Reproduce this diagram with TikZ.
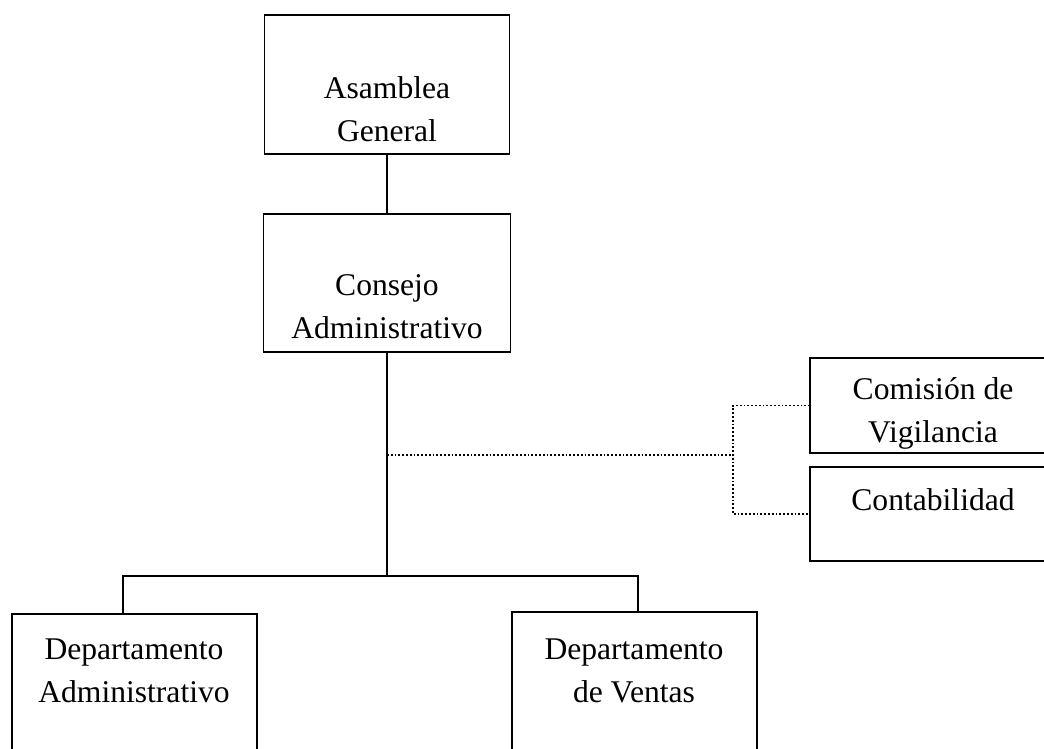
\documentclass[tikz,border=0pt]{standalone}
\usepackage{fontspec}
\setmainfont{Liberation Serif}
\begin{document}
\begin{tikzpicture}[x=0.5pt,y=-0.5pt,
    caja/.style={draw, line width=0.8pt, inner sep=0pt, outer sep=0pt},
    texto/.style={align=center, inner sep=0pt, font=\fontsize{15.8}{21.5}\selectfont},
    linea/.style={line width=0.8pt},
    punteado/.style={densely dotted, line width=0.9pt}]
    \useasboundingbox (0,0) rectangle (1044,749);
    \clip (0,0) rectangle (1044,749);
    % cajas
    \node[caja, minimum width=122.5pt, minimum height=69.5pt] (asa) at (387,84.5) {};
    \node[caja, minimum width=123.5pt, minimum height=69pt] (con) at (387,283) {};
    \node[caja, minimum width=125pt, minimum height=47.5pt] (com) at (935,405.5) {};
    \node[caja, minimum width=125pt, minimum height=47pt] (cont) at (935,514) {};
    \node[caja, minimum width=122.5pt, minimum height=88pt] (adm) at (134.5,702) {};
    \node[caja, minimum width=122.5pt, minimum height=89pt] (ven) at (634.5,701) {};
    % textos
    \node[texto] (asaT) at (387,109) {Asamblea\\General};
    \node[texto] (conT) at (387,307) {Consejo\\Administrativo};
    \node[texto] (comT) at (933,413) {Comisión de\\Vigilancia};
    \node[texto] (contT) at (933,500) {Contabilidad};
    \node[texto] (admT) at (134,671) {Departamento\\Administrativo};
    \node[texto] (venT) at (634,671) {Departamento\\de Ventas};
    % lineas
    \coordinate (rama) at (388,576);
    \coordinate (ramaI) at (123,576);
    \coordinate (ramaD) at (638,576);
    \coordinate (cruce) at (733,455);
    \draw[linea] (asa.south) -- (asa.south |- con.north);
    \draw[linea] (con.south) -- (con.south |- rama);
    \draw[linea] (ramaI |- adm.north) -- (ramaI) -- (ramaD) -- (ramaD |- ven.north);
    \draw[punteado] (con.south |- cruce) -- (cruce);
    \draw[punteado] (com.west) -| (cruce) |- (cont.west);
\end{tikzpicture}
\end{document}
